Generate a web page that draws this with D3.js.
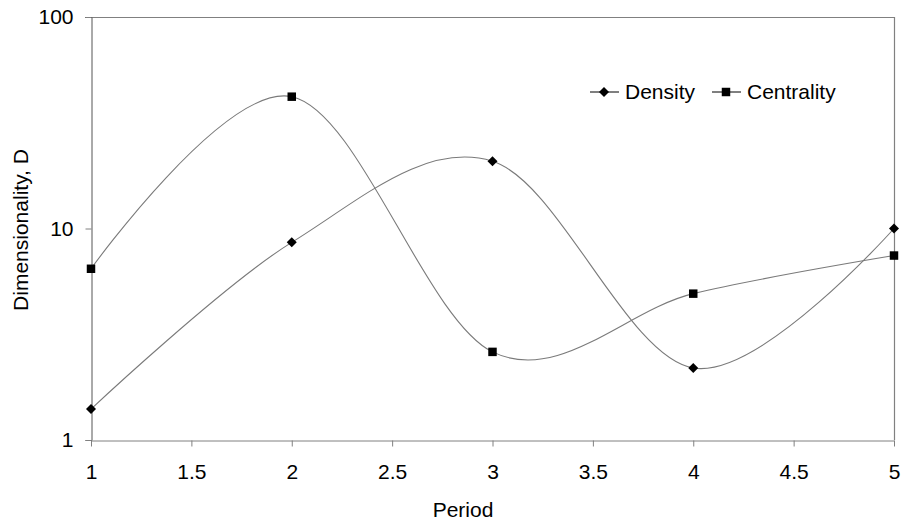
<!DOCTYPE html>
<html>
<head>
<meta charset="utf-8">
<script src="https://cdn.jsdelivr.net/npm/d3@7"></script>
<style>
  html, body { margin: 0; padding: 0; background: #fff; }
  svg { display: block; font-family: "Liberation Sans", Arial, sans-serif; }
</style>
</head>
<body>
<svg id="chart" width="903" height="524"></svg>
<script>
// Periods on the x axis
const periods = [1, 2, 3, 4, 5];
// Dimensionality per period
const density = [1.40, 8.6, 20.8, 2.19, 10.0];
const centrality = [6.45, 42.0, 2.61, 4.92, 7.45];
// Axis ticks
const xTicks = [1, 1.5, 2, 2.5, 3, 3.5, 4, 4.5, 5];
const yTicks = [1, 10, 100];

const svg = d3.select("#chart");
const margin = { left: 91, right: 9, top: 17, bottom: 84 };
const W = 903, H = 524;
const FS = 21;

const x = d3.scaleLinear().domain([1, 5]).range([margin.left, W - margin.right]);
const y = d3.scaleLog().domain([1, 100]).range([H - margin.bottom, margin.top]);

const axisColor = "#808080";

// Plot frame (top and right edges)
svg.append("path")
  .attr("d", `M${x(1) - 6},${y(100) + 0.5}H${x(5) + 0.5}V${y(1)}`)
  .attr("fill", "none").attr("stroke", axisColor).attr("stroke-width", 1.2);

// Y axis
const yAxis = svg.append("g")
  .attr("transform", `translate(${x(1) + 0.5},0)`)
  .call(d3.axisLeft(y).tickValues(yTicks).tickFormat(d3.format("d")).tickSize(6).tickPadding(12));
yAxis.select(".domain").attr("stroke", "#555");
yAxis.selectAll(".tick line").attr("stroke", axisColor);
yAxis.selectAll(".tick text").attr("font-size", FS).attr("fill", "#000")
  .attr("font-family", "Liberation Sans, Arial, sans-serif");

// X axis
const xAxis = svg.append("g")
  .attr("transform", `translate(0,${y(1) + 0.5})`)
  .call(d3.axisBottom(x).tickValues(xTicks).tickFormat(d3.format("")).tickSize(6).tickSizeOuter(0).tickPadding(18));
xAxis.select(".domain").attr("stroke", axisColor);
xAxis.selectAll(".tick line").attr("stroke", axisColor);
xAxis.selectAll(".tick text").attr("font-size", FS).attr("fill", "#000")
  .attr("font-family", "Liberation Sans, Arial, sans-serif");

// Axis titles
svg.append("text")
  .attr("x", 463).attr("y", 517)
  .attr("text-anchor", "middle").attr("font-size", FS).text("Period");
svg.append("text")
  .attr("transform", `translate(28,230) rotate(-90)`)
  .attr("text-anchor", "middle").attr("font-size", FS).text("Dimensionality, D");

// Smoothed series lines
const line = d3.line()
  .x((d, i) => x(periods[i]))
  .y(d => y(d))
  .curve(d3.curveCardinal.tension(0));

const series = [
  { name: "Density", values: density, symbol: d3.symbolSquare, size: 50, rotate: 45 },
  { name: "Centrality", values: centrality, symbol: d3.symbolSquare, size: 72, rotate: 0 }
];

series.forEach(s => {
  svg.append("path")
    .datum(s.values)
    .attr("d", line)
    .attr("fill", "none")
    .attr("stroke", "#7a7a7a")
    .attr("stroke-width", 1.1);
});

series.forEach(s => {
  svg.append("g").selectAll("path")
    .data(s.values)
    .join("path")
    .attr("transform", (d, i) => `translate(${x(periods[i])},${y(d)}) rotate(${s.rotate})`)
    .attr("d", d3.symbol().type(s.symbol).size(s.size))
    .attr("fill", "#000");
});

// Legend
const legend = svg.append("g").attr("transform", "translate(590,92)");
const legendItems = [
  { s: series[0], dx: 0, label: "Density" },
  { s: series[1], dx: 122, label: "Centrality" }
];
legendItems.forEach(it => {
  const g = legend.append("g").attr("transform", `translate(${it.dx},0)`);
  g.append("line").attr("x1", 0).attr("x2", 29).attr("y1", 0).attr("y2", 0)
    .attr("stroke", "#000").attr("stroke-width", 1);
  g.append("path").attr("transform", `translate(14,0) rotate(${it.s.rotate})`)
    .attr("d", d3.symbol().type(it.s.symbol).size(it.s.size)).attr("fill", "#000");
  g.append("text").attr("x", 35).attr("y", 7).attr("font-size", FS).text(it.label);
});
</script>
</body>
</html>
